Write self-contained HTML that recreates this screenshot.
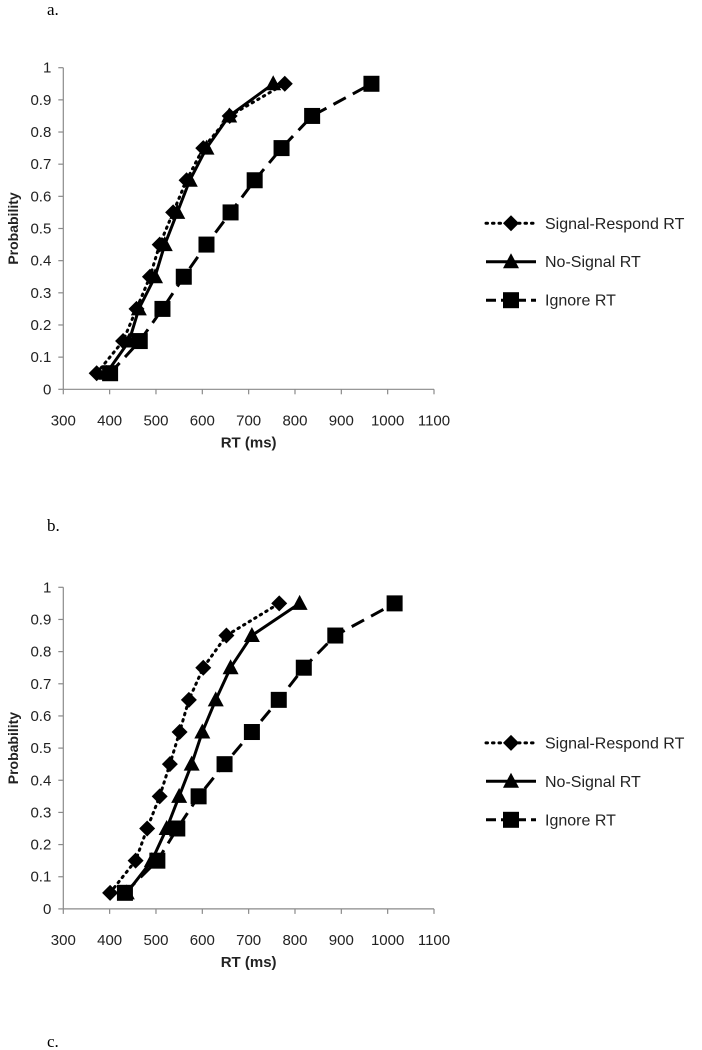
<!DOCTYPE html>
<html><head><meta charset="utf-8"><style>
html,body{margin:0;padding:0;background:#fff;}
svg{display:block;font-family:"Liberation Sans",sans-serif;}
</style></head><body>
<svg id="s" width="702" height="1050" viewBox="0 0 702 1050">
<text x="47" y="15" font-family="Liberation Serif" font-size="17">a.</text>
<text x="47" y="531" font-family="Liberation Serif" font-size="17">b.</text>
<text x="47" y="1047" font-family="Liberation Serif" font-size="17">c.</text>
</svg>
<script>
const xTicks = [300,400,500,600,700,800,900,1000,1100];
const yTicks = [0,0.1,0.2,0.3,0.4,0.5,0.6,0.7,0.8,0.9,1];
const yTickLabels = ["0","0.1","0.2","0.3","0.4","0.5","0.6","0.7","0.8","0.9","1"];
const probs = [0.05,0.15,0.25,0.35,0.45,0.55,0.65,0.75,0.85,0.95];
const seriesNames = ["Signal-Respond RT","No-Signal RT","Ignore RT"];
const aSignalRespond = [372,429,458,487,508,537,566,602,659,778];
const aNoSignal = [393,442,463,498,519,546,573,609,658,753];
const aIgnore = [401,465,514,560,609,661,713,771,837,965];
const bSignalRespond = [401,456,481,508,530,551,571,602,652,766];
const bNoSignal = [437,491,523,550,577,600,629,661,707,810];
const bIgnore = [433,503,546,592,648,707,765,819,887,1015];

const NS="http://www.w3.org/2000/svg";
const svg=document.getElementById('s');
function mk(tag,attrs,parent){const e=document.createElementNS(NS,tag);for(const k in attrs)e.setAttribute(k,attrs[k]);(parent||svg).appendChild(e);return e;}

function marker(g,type,cx,cy){
  let e;
  if(type===0){e=mk('polygon',{points:`${cx},${cy-8} ${cx+8},${cy} ${cx},${cy+8} ${cx-8},${cy}`,fill:'#000'},g);}
  else if(type===1){e=mk('polygon',{points:`${cx},${cy-8.5} ${cx+8},${cy+6.5} ${cx-8},${cy+6.5}`,fill:'#000'},g);}
  else {e=mk('rect',{x:cx-8,y:cy-8,width:16,height:16,fill:'#000'},g);}
  return e;
}
const dashes=['1.5,5','', '14,8'];
const caps=['round','butt','butt'];

function chart(prefix,top,series){
  const L=63.3,R=434,B=top+321.6,T=top;
  const X=v=>L+(v-300)/800*(R-L);
  const Y=p=>B-p*(B-T);
  const g=mk('g',{});
  
  
  const ya=mk('line',{x1:L,y1:T,x2:L,y2:B,stroke:'#8a8a8a','stroke-width':1.2},g);
  
  
  const xa=mk('line',{x1:L,y1:B,x2:R,y2:B,stroke:'#8a8a8a','stroke-width':1.2},g);
  
  
  yTicks.forEach((t,i)=>{
    mk('line',{x1:L-5,y1:Y(t),x2:L,y2:Y(t),stroke:'#8a8a8a','stroke-width':1.2},g);
    const tx=mk('text',{x:L-12,y:Y(t)+5,'text-anchor':'end','font-size':15,fill:'#222'},g);
    tx.textContent=yTickLabels[i];
    
    
  });
  xTicks.forEach(t=>{
    mk('line',{x1:X(t),y1:B,x2:X(t),y2:B+5,stroke:'#8a8a8a','stroke-width':1.2},g);
    const tx=mk('text',{x:X(t),y:B+36,'text-anchor':'middle','font-size':15,fill:'#222'},g);
    tx.textContent=String(t);
    
    
  });
  const xt=mk('text',{x:(L+R)/2,y:B+58,'text-anchor':'middle','font-size':15,'font-weight':'bold',fill:'#222'},g);
  xt.textContent='RT (ms)';
  
  
  const yt=mk('text',{x:0,y:0,'text-anchor':'middle','font-size':14,'font-weight':'bold',fill:'#222',transform:`translate(18,${(T+B)/2}) rotate(-90)`},g);
  yt.textContent='Probability';
  
  
  series.forEach((vals,si)=>{
    const sg=mk('g',{},g);
    
    
    const pts=vals.map((v,i)=>X(v)+','+Y(probs[i])).join(' ');
    const attrs={points:pts,fill:'none',stroke:'#000','stroke-width':3,'stroke-linecap':caps[si]};
    if(dashes[si])attrs['stroke-dasharray']=dashes[si];
    mk('polyline',attrs,sg);
    vals.forEach((v,i)=>{
      const m=marker(sg,si,X(v),Y(probs[i]));
      
      
    });
  });
  const lg=mk('g',{},g);
  
  
  const ly=[top+155.6,top+194,top+232.5];
  seriesNames.forEach((n,si)=>{
    const eg=mk('g',{},lg);
    
    
    const a={x1:486,y1:ly[si],x2:536,y2:ly[si],stroke:'#000','stroke-width':3,'stroke-linecap':caps[si]};
    if(dashes[si])a['stroke-dasharray']=si===2?'10,5':dashes[si];
    mk('line',a,eg);
    marker(eg,si,511,ly[si]);
    const tx=mk('text',{x:545,y:ly[si]+5.5,'font-size':16,fill:'#222'},eg);
    tx.textContent=n;
  });
}
chart('panel-a',67.7,[aSignalRespond,aNoSignal,aIgnore]);
chart('panel-b',587.3,[bSignalRespond,bNoSignal,bIgnore]);
</script>
</body></html>
